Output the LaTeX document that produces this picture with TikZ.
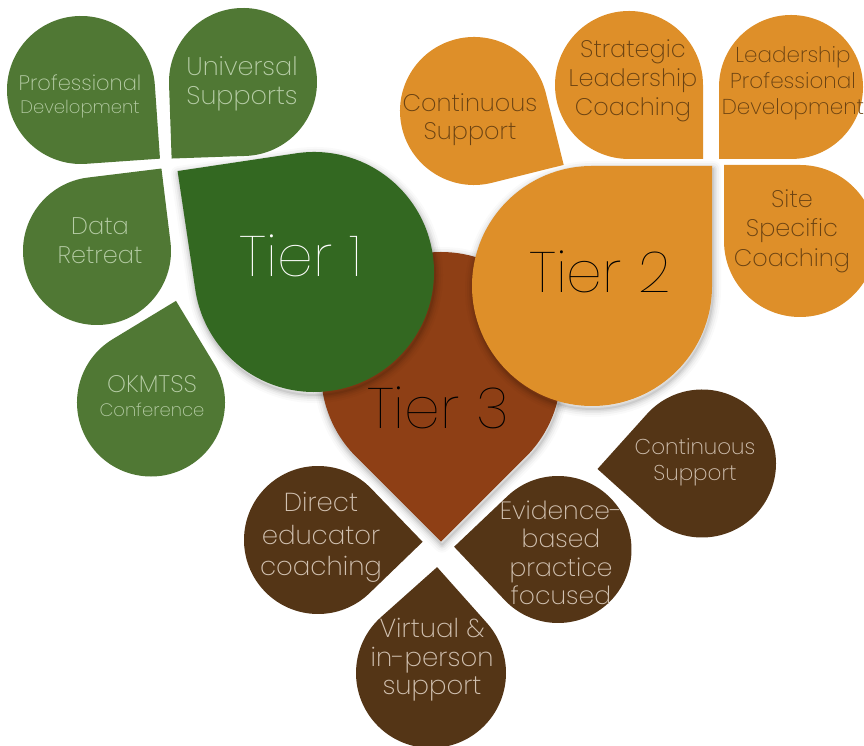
\documentclass[tikz,border=0pt]{standalone}
\usepackage{fontspec}
\setmainfont{Poppins ExtraLight}
\newfontfamily\tierfont{Poppins Thin}
\definecolor{gLight}{HTML}{507834}
\definecolor{gDark}{HTML}{336821}
\definecolor{oFill}{HTML}{DE8F29}
\definecolor{rFill}{HTML}{8E3F15}
\definecolor{bFill}{HTML}{543516}
\definecolor{gText}{HTML}{B7CDA7}
\definecolor{oText}{HTML}{6A4212}
\definecolor{bText}{HTML}{D2C2B2}
% teardrop: centre x, centre y (image coords), radius, corner angle, style
\newcommand{\drop}[5]{%
  \begin{scope}[shift={({#1},{746-(#2)})}, rotate={#4-45}]
    \path[#5] (#3,0) -- (#3,#3) -- (0,#3) arc[start angle=90, end angle=360, radius=#3] -- cycle;
  \end{scope}}
\newcommand{\dropshadow}[4]{%
  \foreach \w/\o in {16/0.02,12/0.03,8/0.04,5/0.05,2/0.07}{%
    \drop{#1+1}{#2+3}{#3}{#4}{draw=black, draw opacity=\o, line width=\w pt, line join=round}}}
\tikzset{
  lab/.style={anchor=base, inner sep=0pt},
  gtxt/.style={lab, text=gText},
  otxt/.style={lab, text=oText},
  btxt/.style={lab, text=bText},
  tiertxt/.style={lab, font=\tierfont\fontsize{57}{60}\selectfont},
}
\begin{document}
\begin{tikzpicture}[x=1pt, y=1pt]
\useasboundingbox (0,0) rectangle (864,746);
\clip (0,0) rectangle (864,746);
\fill[white] (0,0) rectangle (864,746);

% tier shapes with shadows
\dropshadow{441}{372}{120}{-90}
\drop{441}{372}{120}{-90}{fill=rFill}
\dropshadow{314}{272}{120}{143.5}
\drop{314}{272}{120}{143.5}{fill=gDark}
\dropshadow{592}{286}{120}{45}
\drop{592}{286}{120}{45}{fill=oFill}

% green petals
\drop{81}{90}{74}{-41}{fill=gLight}
\drop{243}{82}{74}{-133}{fill=gLight}
\drop{97}{251}{74}{52}{fill=gLight}
\drop{151}{402.5}{74}{76.2}{fill=gLight}

% orange petals
\drop{474}{111}{74}{-31}{fill=oFill}
\drop{629}{85}{74}{-45}{fill=oFill}
\drop{791}{87}{72}{-135}{fill=oFill}
\drop{800}{241}{76}{135}{fill=oFill}

% brown petals
\drop{318}{540}{74}{-1}{fill=bFill}
\drop{431}{673}{75}{86.7}{fill=bFill}
\drop{558}{549.5}{73.5}{178.5}{fill=bFill}
\drop{702}{463.5}{74}{183}{fill=bFill}

% tier labels
\node[tiertxt, text=white] (t1) at (301,746-277) {Tier 1};
\node[tiertxt, text=black] (t2) at (600,746-293) {Tier 2};
\node[tiertxt, text=black] (t3) at (438,746-429) {Tier 3};

% green labels
\node[gtxt, font=\fontsize{21}{25}\selectfont] (pd1) at (80,746-91) {Professional};
\node[gtxt, font=\fontsize{18}{22}\selectfont] (pd2) at (80,746-114) {Development};
\node[gtxt, font=\fontsize{25.5}{30}\selectfont] (us1) at (242,746-76) {Universal};
\node[gtxt, font=\fontsize{25.5}{30}\selectfont] (us2) at (242,746-105) {Supports};
\node[gtxt, font=\fontsize{24}{28}\selectfont] (dr1) at (100,746-235) {Data};
\node[gtxt, font=\fontsize{24}{28}\selectfont] (dr2) at (100,746-264) {Retreat};
\node[gtxt, font=\fontsize{24}{28}\selectfont] (ok1) at (152,746-393) {OKMTSS};
\node[gtxt, font=\fontsize{18}{22}\selectfont] (ok2) at (152,746-417) {Conference};

% orange labels
\node[otxt, font=\fontsize{24}{28}\selectfont] (cso1) at (470,746-112) {Continuous};
\node[otxt, font=\fontsize{24}{28}\selectfont] (cso2) at (470,746-140) {Support};
\node[otxt, font=\fontsize{24}{28}\selectfont] (slc1) at (633,746-58) {Strategic};
\node[otxt, font=\fontsize{24}{28}\selectfont] (slc2) at (633,746-87) {Leadership};
\node[otxt, font=\fontsize{24}{28}\selectfont] (slc3) at (633,746-116) {Coaching};
\node[otxt, font=\fontsize{21.5}{25}\selectfont] (lpd1) at (793,746-63) {Leadership};
\node[otxt, font=\fontsize{21.5}{25}\selectfont] (lpd2) at (793,746-89) {Professional};
\node[otxt, font=\fontsize{21.5}{25}\selectfont] (lpd3) at (793,746-115) {Development};
\node[otxt, font=\fontsize{24}{28}\selectfont] (ssc1) at (792,746-208) {Site};
\node[otxt, font=\fontsize{24}{28}\selectfont] (ssc2) at (792,746-237) {Specific};
\node[otxt, font=\fontsize{24}{28}\selectfont] (ssc3) at (792,746-267) {Coaching};

% brown labels
\node[btxt, font=\fontsize{26}{30}\selectfont] (dec1) at (321,746-512) {Direct};
\node[btxt, font=\fontsize{26}{30}\selectfont] (dec2) at (321,746-545) {educator};
\node[btxt, font=\fontsize{26}{30}\selectfont] (dec3) at (321,746-576) {coaching};
\node[btxt, font=\fontsize{26}{30}\selectfont] (vip1) at (432,746-638) {Virtual \&};
\node[btxt, font=\fontsize{26}{30}\selectfont] (vip2) at (432,746-667) {in-person};
\node[btxt, font=\fontsize{26}{30}\selectfont] (vip3) at (432,746-695) {support};
\node[btxt, font=\fontsize{25}{29}\selectfont] (ebp1) at (561,746-520) {Evidence-};
\node[btxt, font=\fontsize{25}{29}\selectfont] (ebp2) at (561,746-548) {based};
\node[btxt, font=\fontsize{25}{29}\selectfont] (ebp3) at (561,746-577) {practice};
\node[btxt, font=\fontsize{25}{29}\selectfont] (ebp4) at (561,746-605) {focused};
\node[btxt, font=\fontsize{21.5}{25}\selectfont] (csb1) at (695,746-455) {Continuous};
\node[btxt, font=\fontsize{21.5}{25}\selectfont] (csb2) at (695,746-481) {Support};
\end{tikzpicture}
\end{document}
